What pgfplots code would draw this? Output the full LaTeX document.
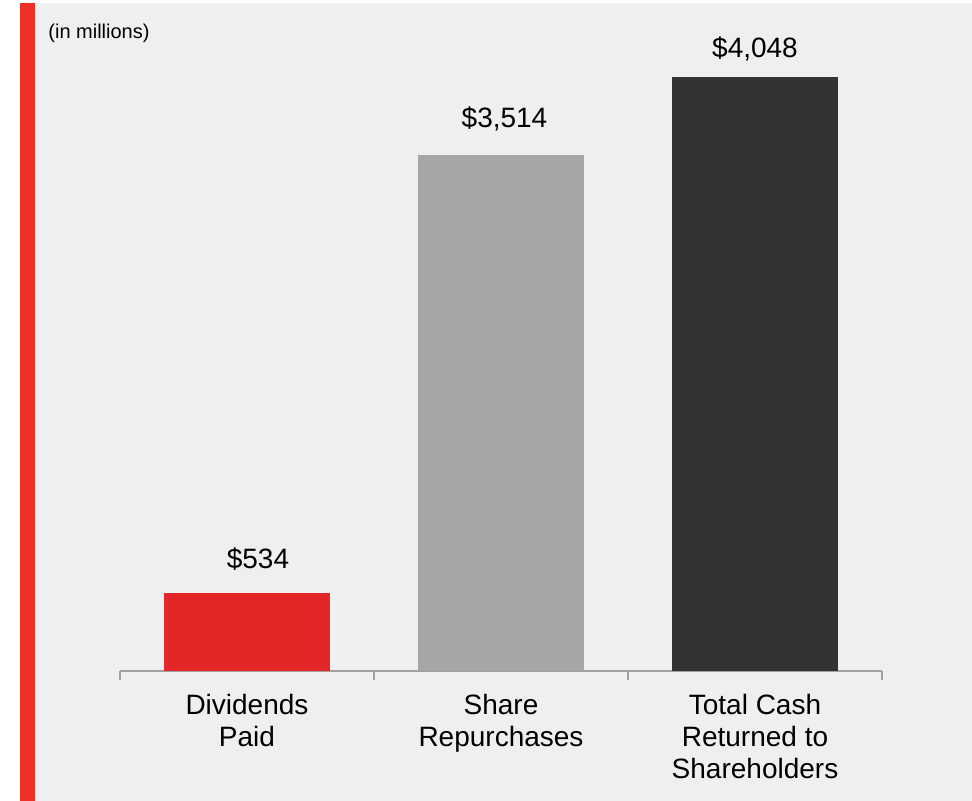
\documentclass[border=0pt]{standalone}
\usepackage{fontspec}
\setmainfont{Liberation Sans}
\usepackage{pgfplots}
\pgfplotsset{compat=1.18}
\definecolor{bg}{HTML}{EEEFF1}
\definecolor{stripe}{HTML}{EE3124}
\definecolor{barred}{HTML}{E32728}
\definecolor{bargray}{HTML}{A6A6A6}
\definecolor{bardark}{HTML}{333333}
\definecolor{axisgray}{HTML}{A0A0A0}
\begin{document}
\begin{tikzpicture}
% canvas: 1px = 0.5pt, 972x801 px
\fill[white] (0,0) rectangle (486pt,400.5pt);
\fill[bg] (17.5pt,0) rectangle (486pt,399pt);
\fill[stripe] (10pt,0) rectangle (17.5pt,399pt);
\node[anchor=base west, inner sep=0pt, font=\fontsize{10}{12}\selectfont] at (24pt,381pt) {(in millions)};
\begin{axis}[
  at={(60pt,65pt)}, anchor=south west,
  scale only axis, width=381pt, height=334pt,
  xmin=-0.5, xmax=2.5, ymin=0, ymax=4550,
  axis y line=none, axis x line*=bottom,
  x axis line style={draw=axisgray, line width=0.75pt},
  xtick={0,1,2},
  xticklabels={{Dividends\\Paid},{Share\\Repurchases},{Total Cash\\Returned to\\Shareholders}},
  major tick length=0pt,
  minor xtick={-0.5,0.5,1.5,2.5},
  minor tick length=4.5pt,
  tick align=outside,
  every tick/.style={draw=axisgray, line width=0.75pt},
  xticklabel style={align=center, font=\fontsize{14}{16}\selectfont, text=black, yshift=-8pt},
  ybar, bar width=83pt, bar shift=0pt,
  clip=false,
  point meta=y,
  /pgf/number format/.cd, fixed, 1000 sep={,}, assume math mode=true,
  /pgfplots/.cd,
  nodes near coords={\$\pgfmathprintnumber{\pgfplotspointmeta}},
]
\addplot[fill=barred, draw=none,
  nodes near coords style={font=\fontsize{14}{16}\selectfont, text=black, anchor=center, yshift=16.75pt, xshift=5.5pt}]
  coordinates {(0,534)};
\addplot[fill=bargray, draw=none,
  nodes near coords style={font=\fontsize{14}{16}\selectfont, text=black, anchor=center, yshift=18.25pt, xshift=1.75pt}]
  coordinates {(1,3514)};
\addplot[fill=bardark, draw=none,
  nodes near coords style={font=\fontsize{14}{16}\selectfont, text=black, anchor=center, yshift=14pt, xshift=0pt}]
  coordinates {(2,4048)};
\end{axis}
\end{tikzpicture}
\end{document}
